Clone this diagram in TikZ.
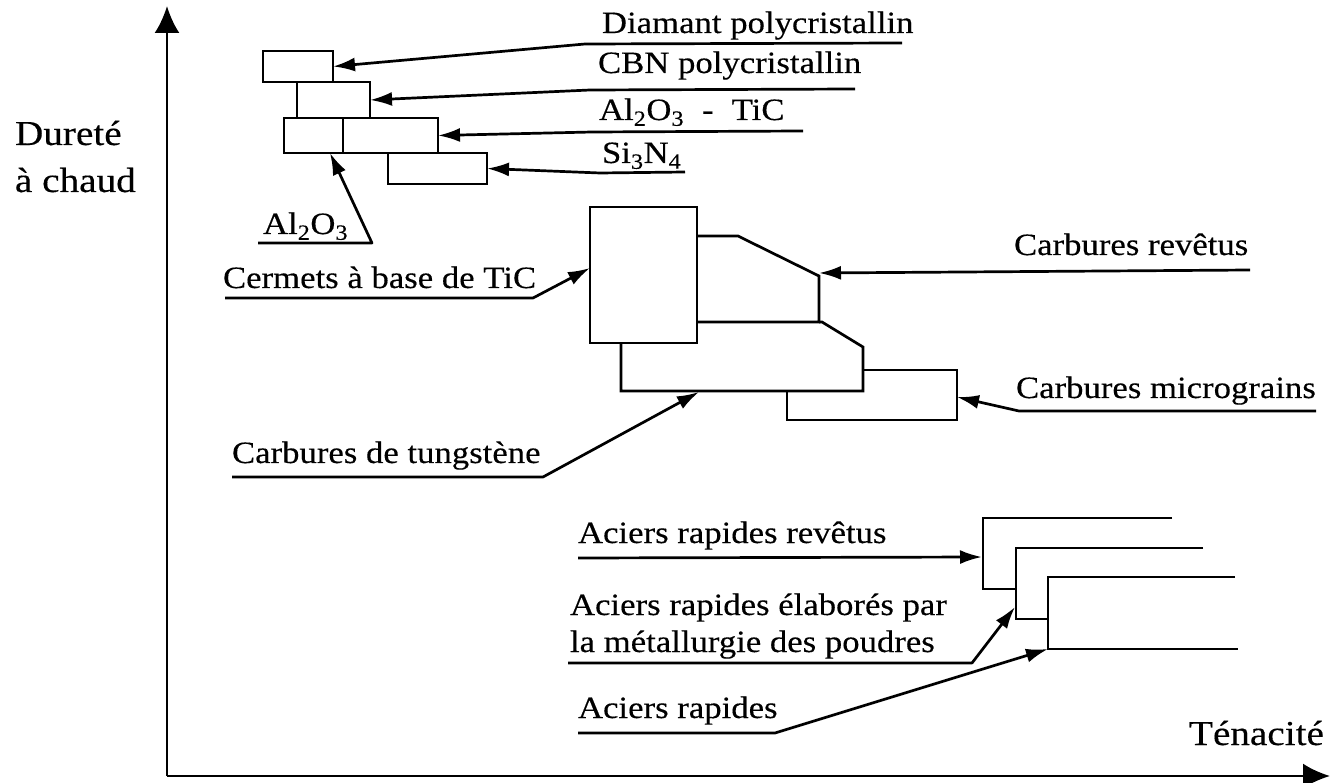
\documentclass[tikz,border=0pt]{standalone}
\usepackage{fontspec}
\setmainfont{Liberation Serif}[FakeStretch=1.12,FakeBold=0.3]
\usetikzlibrary{arrows.meta,calc}
\begin{document}
\begin{tikzpicture}[x=1pt,y=-1pt,
  every node/.style={inner sep=0pt, outer sep=0pt},
  lbl/.style={anchor=base west, font=\fontsize{31}{37}\selectfont},
  axl/.style={anchor=base west, font=\fontsize{35}{42}\selectfont},
  box/.style={draw, line width=2.7pt},
  shp/.style={line width=2.7pt, line join=miter},
  con/.style={line width=2.7pt, line join=round, -{Latex[length=22pt,width=14pt]}},
  axis/.style={line width=2.7pt, -{Latex[length=27pt,width=25pt]}}]
\useasboundingbox (0,0) rectangle (1331,783);

% axes
\coordinate (o) at (167,776);
\coordinate (ytip) at (167,6);
\coordinate (xtip) at (1330,776);
\draw[axis] (o) -- (ytip);
\draw[axis] (o) -- (xtip);
\node[axl] (tDur1) at (15,145) {Dureté};
\node[axl] (tDur2) at (15,192) {à chaud};
\node[axl] (tTen) at (1189,745) {Ténacité};

% top group of boxes
\node[box, minimum width=70pt, minimum height=31pt] (D) at (298,66.5) {};
\node[box, minimum width=73pt, minimum height=36pt] (C) at (333.5,100) {};
\node[box, minimum width=59pt, minimum height=35pt] (A) at (313.5,135.5) {};
\node[box, minimum width=95pt, minimum height=35pt] (T) at (390.5,135.5) {};
\node[box, minimum width=99pt, minimum height=31pt] (S) at (437.5,168.5) {};

% top labels
\node[lbl] (tD) at (602,33) {Diamant polycristallin};
\node[lbl] (tC) at (598,73) {CBN polycristallin};
\node[lbl] (tAT) at (599,120) {Al\textsubscript{2}O\textsubscript{3}\hspace{18pt}-\hspace{18pt}TiC};
\node[lbl] (tS) at (602,163) {Si\textsubscript{3}N\textsubscript{4}};
\node[lbl] (tA) at (263,234) {Al\textsubscript{2}O\textsubscript{3}};

\coordinate (uDr) at (902,43);  \coordinate (uDl) at (585,44);
\coordinate (uCr) at (855,89);  \coordinate (uCl) at (590,90);
\coordinate (uTr) at (803,131); \coordinate (uTl) at (592,132);
\coordinate (uSr) at (685,172); \coordinate (uSl) at (600,173);
\coordinate (uAl) at (258,243); \coordinate (uAr) at (372,243);

\draw[con] (uDr) -- (uDl) -- (D.east);
\draw[con] (uCr) -- (uCl) -- (C.east);
\draw[con] (uTr) -- (uTl) -- (T.east);
\draw[con] (uSr) -- (uSl) -- (S.east);
\draw[con] (uAl) -- (uAr) -- ($(A.south)+(16.5,0)$);

% middle group
\node[box, minimum width=107pt, minimum height=136pt] (cer) at (643.5,275) {};
\coordinate (rv1) at (697,236); \coordinate (rv2) at (738,236);
\coordinate (rv3) at (819,276); \coordinate (rv4) at (819,322);
\coordinate (rv5) at (697,322);
\draw[shp] (rv1) -- (rv2) -- (rv3) -- (rv4) -- (rv5);
\coordinate (tg1) at (822,322); \coordinate (tg2) at (863,347);
\coordinate (tg3) at (863,391); \coordinate (tg4) at (621,391);
\coordinate (tg5) at (621,343);
\draw[shp] (rv4) -- (tg1) -- (tg2) -- (tg3) -- (tg4) -- (tg5);
\coordinate (mg1) at (863,370); \coordinate (mg2) at (957,370);
\coordinate (mg3) at (957,420); \coordinate (mg4) at (787,420);
\coordinate (mg5) at (787,391);
\draw[shp] (mg1) -- (mg2) -- (mg3) -- (mg4) -- (mg5);
\coordinate (rvT) at (819,273);
\coordinate (tgT) at (699,392);
\coordinate (mgT) at (957,397);

\node[lbl] (tCer) at (223,288) {Cermets à base de TiC};
\node[lbl] (tTg) at (232,463) {Carbures de tungstène};
\node[lbl] (tRv) at (1014,255) {Carbures revêtus};
\node[lbl] (tMg) at (1016,398) {Carbures micrograins};

\coordinate (uCerl) at (225,298); \coordinate (uCerr) at (533,298);
\coordinate (uTgl) at (232,477);  \coordinate (uTgr) at (543,477);
\coordinate (uRvr) at (1250,270);
\coordinate (uMgr) at (1316,411); \coordinate (uMgl) at (1019,411);

\draw[con] (uCerl) -- (uCerr) -- ($(cer.west)+(0,-7)$);
\draw[con] (uTgl) -- (uTgr) -- (tgT);
\draw[con] (uRvr) -- (rvT);
\draw[con] (uMgr) -- (uMgl) -- (mgT);

% high speed steels
\coordinate (s1a) at (1172,518); \coordinate (s1b) at (983,518);
\coordinate (s1c) at (983,589);  \coordinate (s1d) at (1016,589);
\draw[shp] (s1a) -- (s1b) -- (s1c) -- (s1d);
\coordinate (s2a) at (1203,548); \coordinate (s2b) at (1016,548);
\coordinate (s2c) at (1016,619); \coordinate (s2d) at (1049,619);
\draw[shp] (s2a) -- (s2b) -- (s2c) -- (s2d);
\coordinate (s3a) at (1235,577); \coordinate (s3b) at (1048,577);
\coordinate (s3c) at (1048,649); \coordinate (s3d) at (1238,649);
\draw[shp] (s3a) -- (s3b) -- (s3c) -- (s3d);
\coordinate (s1T) at (982,557);
\coordinate (s2T) at (1015,607);
\coordinate (s3T) at (1048,649);

\node[lbl] (tArv) at (578,543) {Aciers rapides revêtus};
\node[lbl] (tApm1) at (570,615) {Aciers rapides élaborés par};
\node[lbl] (tApm2) at (570,652) {la métallurgie des poudres};
\node[lbl] (tAr) at (578,718) {Aciers rapides};

\coordinate (uArvl) at (578,558);
\coordinate (uApml) at (568,663); \coordinate (uApmr) at (972,663);
\coordinate (uArl) at (578,733);  \coordinate (uArr) at (775,733);

\draw[con] (uArvl) -- (s1T);
\draw[con] (uApml) -- (uApmr) -- (s2T);
\draw[con] (uArl) -- (uArr) -- (s3T);
\end{tikzpicture}
\end{document}
